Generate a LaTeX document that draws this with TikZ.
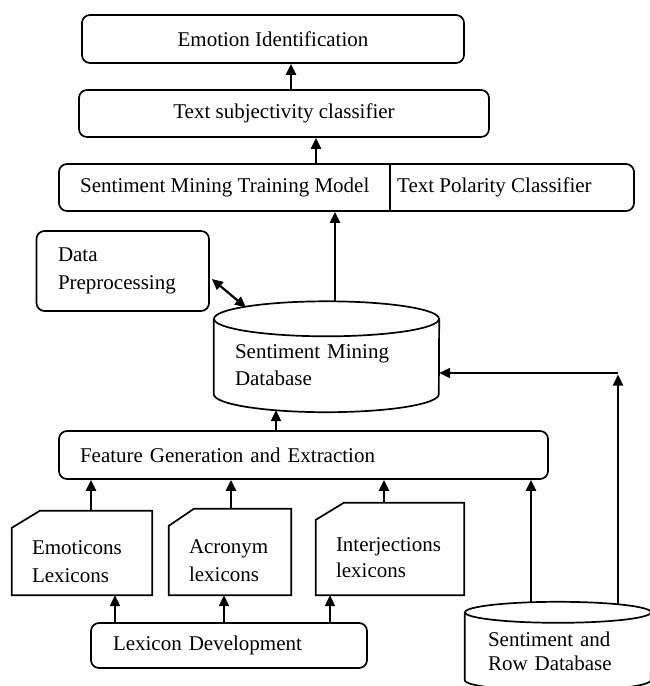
\documentclass[tikz,border=0pt]{standalone}
\usepackage{fontspec}
\setmainfont{Liberation Serif}
\usetikzlibrary{arrows.meta,calc}
\begin{document}
\begin{tikzpicture}[x=1pt,y=-1pt,
  boxline/.style={line width=1.7pt},
  txt/.style={inner sep=0pt, font=\fontsize{21}{28}\selectfont},
  rbox/.style={draw, boxline, rounded corners=8pt, txt},
  arr/.style={line width=2.2pt, -{Triangle[length=11pt,width=10pt]}},
  darr/.style={line width=2.2pt, {Triangle[length=11pt,width=10pt]}-{Triangle[length=11pt,width=10pt]}},
]
\useasboundingbox (0,0) rectangle (650,686);
\fill[white] (0,0) rectangle (650,686);

% top boxes
\node[rbox, minimum width=382pt, minimum height=48pt] (eid) at (273,39) {Emotion Identification};
\node[rbox, minimum width=410pt, minimum height=47pt] (tsc) at (284,113.5) {Text subjectivity classifier};
\node[rbox, minimum width=575pt, minimum height=47pt] (train) at (346.5,187.5) {};
\node[txt, anchor=west] (trainL) at (80,187.5) {Sentiment Mining Training Model};
\node[txt, anchor=west] (trainR) at (397,187.5) {Text Polarity Classifier};
\draw[boxline] (390,0 |- train.north) -- (390,0 |- train.south);

% data preprocessing
\node[rbox, minimum height=80pt, text width=129.5pt, inner xsep=21.5pt, align=left] (dp) at (122.75,271) {Data\\Preprocessing};

% sentiment mining database (cylinder)
\node[txt, minimum height=57.5pt, text width=183pt, inner xsep=21pt, align=left, font=\fontsize{21}{27}\selectfont] (db) at (326.5,365.25) {Sentiment Mining\\Database};
\draw[boxline] ([yshift=17.5pt]db.north) ellipse [x radius=112.5pt, y radius=17.5pt];
\draw[boxline] ([yshift=17.5pt]db.north west) -- (db.south west)
  arc [start angle=180, end angle=360, x radius=112.5pt, y radius=18pt] -- ([yshift=17.5pt]db.north east);

% feature generation
\node[rbox, minimum height=48pt, text width=447pt, inner xsep=21pt, align=left] (feat) at (303.5,455) {Feature Generation and Extraction};

% lexicon documents
\node[txt, minimum height=67pt, text width=100pt, inner xsep=20pt, align=left] (emo) at (82,561.5) {Emoticons\\Lexicons};
\draw[boxline] (emo.south west) -- (emo.north west) -- ([shift={(28pt,17pt)}]emo.north west) -- ([yshift=17pt]emo.north east) -- (emo.south east) -- cycle;
\node[txt, minimum height=69pt, text width=82pt, inner xsep=20pt, align=left] (acr) at (230,560.5) {Acronym\\lexicons};
\draw[boxline] (acr.south west) -- (acr.north west) -- ([shift={(25pt,17pt)}]acr.north west) -- ([yshift=17pt]acr.north east) -- (acr.south east) -- cycle;
\node[txt, minimum height=75pt, text width=108pt, inner xsep=20pt, align=left, font=\fontsize{21}{26}\selectfont] (inj) at (390,557.5) {Interjections\\lexicons};
\draw[boxline] (inj.south west) -- (inj.north west) -- ([shift={(28pt,17pt)}]inj.north west) -- ([yshift=17pt]inj.north east) -- (inj.south east) -- cycle;

% lexicon development
\node[rbox, minimum height=45pt, text width=232pt, inner xsep=22pt, align=left] (lex) at (229,645.5) {Lexicon Development};

% sentiment and row database (cylinder)
\node[txt, minimum height=57pt, text width=140pt, inner xsep=23pt, align=left, font=\fontsize{21}{24}\selectfont] (src) at (558,651.5) {Sentiment and\\Row Database};
\draw[boxline] ([yshift=10.5pt]src.north) ellipse [x radius=93pt, y radius=10.5pt];
\draw[boxline] ([yshift=10.5pt]src.north west) -- (src.south west)
  arc [start angle=180, end angle=360, x radius=93pt, y radius=10.5pt] -- ([yshift=10.5pt]src.north east);

% helper coordinates
\coordinate (emoTop) at ([xshift=9pt,yshift=17pt]emo.north);
\coordinate (acrTop) at ([xshift=1pt,yshift=17pt]acr.north);
\coordinate (injTop) at ([xshift=-6pt,yshift=17pt]inj.north);
\coordinate (dbTop) at ([xshift=8.5pt,yshift=35pt]db.north);
\coordinate (dbBot) at ([xshift=-50.5pt,yshift=-16pt]db.south);
\coordinate (dpA) at ([xshift=2pt,yshift=-8pt]dp.east);
\coordinate (dbL) at (246,307.5);
\coordinate (srcA) at (531,602.5);
\coordinate (srcB) at (618,604.5);
\coordinate (turn) at (618,373);
\coordinate (turnTip) at (618,374.5);

% connectors
\draw[arr] (291,0 |- tsc.north) -- (291,0 |- eid.south);
\draw[arr] (316,0 |- train.north) -- (316,0 |- tsc.south);
\draw[arr] (dbTop) -- (dbTop |- train.south);
\draw[darr] (dpA) -- (dbL);
\draw[arr] (dbBot |- feat.north) -- (dbBot);
\draw[arr] (emoTop) -- (emoTop |- feat.south);
\draw[arr] (acrTop) -- (acrTop |- feat.south);
\draw[arr] (injTop) -- (injTop |- feat.south);
\draw[arr] (srcA) -- (srcA |- feat.south);
\draw[arr] (srcB) -- (turnTip);
\draw[arr] (turn) -- (turn -| db.east);
\draw[arr] (115,0 |- lex.north) -- (115,0 |- emo.south);
\draw[arr] (224,0 |- lex.north) -- (224,0 |- acr.south);
\draw[arr] (330,0 |- lex.north) -- (330,0 |- inj.south);
\end{tikzpicture}
\end{document}
